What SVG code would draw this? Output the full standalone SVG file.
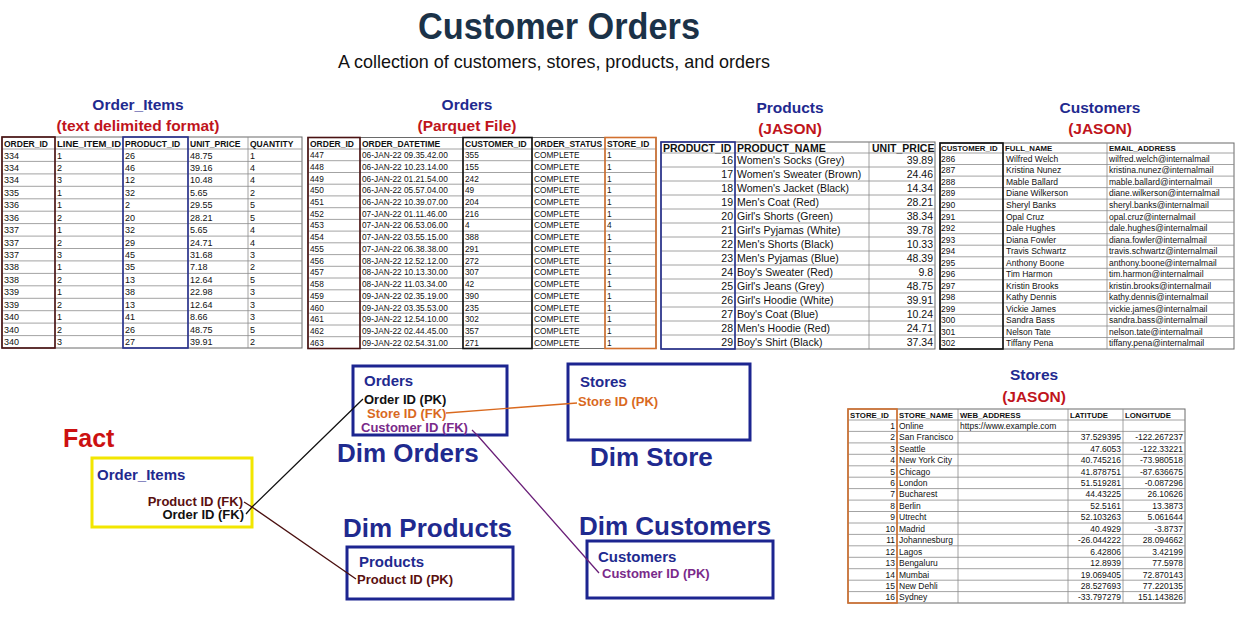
<svg xmlns="http://www.w3.org/2000/svg" width="1235" height="633" viewBox="0 0 1235 633">
<style>
text{font-family:"Liberation Sans",Arial,sans-serif}
.ttl{font-weight:bold;font-size:15.5px;fill:#1f2a8f;text-anchor:middle}
.sub{font-weight:bold;font-size:15.5px;fill:#c0141c;text-anchor:middle}
.h{font-weight:bold;font-size:8.5px;fill:#111}
.d{font-size:8.5px;fill:#111}
.d9{font-size:9px;fill:#111}
.d8{font-size:8.3px;fill:#111}
.ph{font-weight:bold;font-size:10.5px;fill:#111}
.pd{font-size:10.5px;fill:#111}
.ch{font-weight:bold;font-size:7.8px;fill:#111}
.r{text-anchor:end}
.grid{fill:none;stroke:#8c8c8c;stroke-width:0.8}
.bg{fill:#fff;stroke:#6a6a6a;stroke-width:1}
.hl-red{fill:none;stroke:#4a1212;stroke-width:1.6}
.hl-blue{fill:none;stroke:#26308f;stroke-width:1.6}
.hl-blk{fill:none;stroke:#111;stroke-width:1.6}
.hl-org{fill:none;stroke:#d2702e;stroke-width:1.6}
.box{fill:#fff;stroke:#1c2590;stroke-width:3}
.bt{font-weight:bold;font-size:15px;fill:#1f2a8f}
.k{font-weight:bold;font-size:13px}
.dim{font-weight:bold;font-size:26px;fill:#1f2a8f}
.con{fill:none;stroke-width:1.3}
</style>
<rect width="1235" height="633" fill="#fff"/>

<g id="title">
<text x="559" y="39" font-size="36" font-weight="bold" fill="#1b3248" text-anchor="middle" textLength="282" lengthAdjust="spacingAndGlyphs">Customer Orders</text>
<text x="554" y="68" font-size="18.5" fill="#111" text-anchor="middle" textLength="432" lengthAdjust="spacingAndGlyphs">A collection of customers, stores, products, and orders</text>
</g>

<!-- Order_Items table -->
<g id="t-order-items">
<text class="ttl" x="138" y="110">Order_Items</text>
<text class="sub" x="138" y="131">(text delimited format)</text>
<rect class="bg" x="2" y="137" width="300" height="211"/>
<path class="grid" d="M2 149H302M2 161.4H302M2 173.9H302M2 186.3H302M2 198.8H302M2 211.2H302M2 223.6H302M2 236.1H302M2 248.5H302M2 260.9H302M2 273.4H302M2 285.8H302M2 298.3H302M2 310.7H302M2 323.1H302M2 335.6H302M55 137V348M123 137V348M188 137V348M248 137V348"/>
<rect class="hl-red" x="2" y="137" width="53" height="211"/>
<rect class="hl-blue" x="123" y="137" width="65" height="211"/>
<text class="h" y="146.5" font-size="9"><tspan x="4">ORDER_ID</tspan><tspan x="57" textLength="64" lengthAdjust="spacingAndGlyphs">LINE_ITEM_ID</tspan><tspan x="125">PRODUCT_ID</tspan><tspan x="190">UNIT_PRICE</tspan><tspan x="250">QUANTITY</tspan></text>
<g class="d9">
<text y="158.5"><tspan x="4">334</tspan><tspan x="57">1</tspan><tspan x="125">26</tspan><tspan x="190">48.75</tspan><tspan x="250">1</tspan></text>
<text y="170.9"><tspan x="4">334</tspan><tspan x="57">2</tspan><tspan x="125">46</tspan><tspan x="190">39.16</tspan><tspan x="250">4</tspan></text>
<text y="183.4"><tspan x="4">334</tspan><tspan x="57">3</tspan><tspan x="125">12</tspan><tspan x="190">10.48</tspan><tspan x="250">4</tspan></text>
<text y="195.8"><tspan x="4">335</tspan><tspan x="57">1</tspan><tspan x="125">32</tspan><tspan x="190">5.65</tspan><tspan x="250">2</tspan></text>
<text y="208.3"><tspan x="4">336</tspan><tspan x="57">1</tspan><tspan x="125">2</tspan><tspan x="190">29.55</tspan><tspan x="250">5</tspan></text>
<text y="220.7"><tspan x="4">336</tspan><tspan x="57">2</tspan><tspan x="125">20</tspan><tspan x="190">28.21</tspan><tspan x="250">5</tspan></text>
<text y="233.1"><tspan x="4">337</tspan><tspan x="57">1</tspan><tspan x="125">32</tspan><tspan x="190">5.65</tspan><tspan x="250">4</tspan></text>
<text y="245.6"><tspan x="4">337</tspan><tspan x="57">2</tspan><tspan x="125">29</tspan><tspan x="190">24.71</tspan><tspan x="250">4</tspan></text>
<text y="258"><tspan x="4">337</tspan><tspan x="57">3</tspan><tspan x="125">45</tspan><tspan x="190">31.68</tspan><tspan x="250">3</tspan></text>
<text y="270.4"><tspan x="4">338</tspan><tspan x="57">1</tspan><tspan x="125">35</tspan><tspan x="190">7.18</tspan><tspan x="250">2</tspan></text>
<text y="282.9"><tspan x="4">338</tspan><tspan x="57">2</tspan><tspan x="125">13</tspan><tspan x="190">12.64</tspan><tspan x="250">5</tspan></text>
<text y="295.3"><tspan x="4">339</tspan><tspan x="57">1</tspan><tspan x="125">38</tspan><tspan x="190">22.98</tspan><tspan x="250">3</tspan></text>
<text y="307.8"><tspan x="4">339</tspan><tspan x="57">2</tspan><tspan x="125">13</tspan><tspan x="190">12.64</tspan><tspan x="250">3</tspan></text>
<text y="320.2"><tspan x="4">340</tspan><tspan x="57">1</tspan><tspan x="125">41</tspan><tspan x="190">8.66</tspan><tspan x="250">3</tspan></text>
<text y="332.6"><tspan x="4">340</tspan><tspan x="57">2</tspan><tspan x="125">26</tspan><tspan x="190">48.75</tspan><tspan x="250">5</tspan></text>
<text y="345.1"><tspan x="4">340</tspan><tspan x="57">3</tspan><tspan x="125">27</tspan><tspan x="190">39.91</tspan><tspan x="250">2</tspan></text>
</g>
</g>

<!-- Orders table -->
<g id="t-orders">
<text class="ttl" x="467" y="110">Orders</text>
<text class="sub" x="467" y="131">(Parquet File)</text>
<rect class="bg" x="308" y="137.5" width="348" height="211"/>
<path class="grid" d="M308 149H656M308 160.7H656M308 172.5H656M308 184.2H656M308 195.9H656M308 207.7H656M308 219.4H656M308 231.1H656M308 242.8H656M308 254.6H656M308 266.3H656M308 278H656M308 289.8H656M308 301.5H656M308 313.2H656M308 325H656M308 336.7H656M360 137.5V348.5M463 137.5V348.5M532 137.5V348.5M605 137.5V348.5"/>
<rect class="hl-red" x="308" y="137.5" width="52" height="211"/>
<rect class="hl-blk" x="463" y="137.5" width="69" height="211"/>
<rect class="hl-org" x="605" y="137.5" width="51" height="211"/>
<text class="h" y="146.5"><tspan x="310">ORDER_ID</tspan><tspan x="362">ORDER_DATETIME</tspan><tspan x="465">CUSTOMER_ID</tspan><tspan x="534">ORDER_STATUS</tspan><tspan x="607">STORE_ID</tspan></text>
<g class="d8">
<text y="158"><tspan x="310">447</tspan><tspan x="362">06-JAN-22 09.35.42.00</tspan><tspan x="465">355</tspan><tspan x="534">COMPLETE</tspan><tspan x="607">1</tspan></text>
<text y="169.7"><tspan x="310">448</tspan><tspan x="362">06-JAN-22 10.23.14.00</tspan><tspan x="465">155</tspan><tspan x="534">COMPLETE</tspan><tspan x="607">1</tspan></text>
<text y="181.5"><tspan x="310">449</tspan><tspan x="362">06-JAN-22 01.21.54.00</tspan><tspan x="465">242</tspan><tspan x="534">COMPLETE</tspan><tspan x="607">1</tspan></text>
<text y="193.2"><tspan x="310">450</tspan><tspan x="362">06-JAN-22 05.57.04.00</tspan><tspan x="465">49</tspan><tspan x="534">COMPLETE</tspan><tspan x="607">1</tspan></text>
<text y="204.9"><tspan x="310">451</tspan><tspan x="362">06-JAN-22 10.39.07.00</tspan><tspan x="465">204</tspan><tspan x="534">COMPLETE</tspan><tspan x="607">1</tspan></text>
<text y="216.7"><tspan x="310">452</tspan><tspan x="362">07-JAN-22 01.11.46.00</tspan><tspan x="465">216</tspan><tspan x="534">COMPLETE</tspan><tspan x="607">1</tspan></text>
<text y="228.4"><tspan x="310">453</tspan><tspan x="362">07-JAN-22 06.53.06.00</tspan><tspan x="465">4</tspan><tspan x="534">COMPLETE</tspan><tspan x="607">4</tspan></text>
<text y="240.1"><tspan x="310">454</tspan><tspan x="362">07-JAN-22 03.55.15.00</tspan><tspan x="465">388</tspan><tspan x="534">COMPLETE</tspan><tspan x="607">1</tspan></text>
<text y="251.8"><tspan x="310">455</tspan><tspan x="362">07-JAN-22 06.38.38.00</tspan><tspan x="465">291</tspan><tspan x="534">COMPLETE</tspan><tspan x="607">1</tspan></text>
<text y="263.6"><tspan x="310">456</tspan><tspan x="362">08-JAN-22 12.52.12.00</tspan><tspan x="465">272</tspan><tspan x="534">COMPLETE</tspan><tspan x="607">1</tspan></text>
<text y="275.3"><tspan x="310">457</tspan><tspan x="362">08-JAN-22 10.13.30.00</tspan><tspan x="465">307</tspan><tspan x="534">COMPLETE</tspan><tspan x="607">1</tspan></text>
<text y="287"><tspan x="310">458</tspan><tspan x="362">08-JAN-22 11.03.34.00</tspan><tspan x="465">42</tspan><tspan x="534">COMPLETE</tspan><tspan x="607">1</tspan></text>
<text y="298.8"><tspan x="310">459</tspan><tspan x="362">09-JAN-22 02.35.19.00</tspan><tspan x="465">390</tspan><tspan x="534">COMPLETE</tspan><tspan x="607">1</tspan></text>
<text y="310.5"><tspan x="310">460</tspan><tspan x="362">09-JAN-22 03.35.53.00</tspan><tspan x="465">235</tspan><tspan x="534">COMPLETE</tspan><tspan x="607">1</tspan></text>
<text y="322.2"><tspan x="310">461</tspan><tspan x="362">09-JAN-22 12.54.10.00</tspan><tspan x="465">302</tspan><tspan x="534">COMPLETE</tspan><tspan x="607">1</tspan></text>
<text y="334"><tspan x="310">462</tspan><tspan x="362">09-JAN-22 02.44.45.00</tspan><tspan x="465">357</tspan><tspan x="534">COMPLETE</tspan><tspan x="607">1</tspan></text>
<text y="345.7"><tspan x="310">463</tspan><tspan x="362">09-JAN-22 02.54.31.00</tspan><tspan x="465">271</tspan><tspan x="534">COMPLETE</tspan><tspan x="607">1</tspan></text>
</g>
</g>

<!-- Products table -->
<g id="t-products">
<text class="ttl" x="790" y="113">Products</text>
<text class="sub" x="790" y="134">(JASON)</text>
<rect class="bg" x="661" y="142" width="274" height="207"/>
<path class="grid" d="M661 153H935M661 167H935M661 181H935M661 195H935M661 209H935M661 223H935M661 237H935M661 251H935M661 265H935M661 279H935M661 293H935M661 307H935M661 321H935M661 335H935M735 142V349M869 142V349"/>
<rect class="hl-blue" x="661" y="142" width="74" height="207"/>
<text class="ph" y="151.5"><tspan x="663">PRODUCT_ID</tspan><tspan x="737">PRODUCT_NAME</tspan><tspan x="872">UNIT_PRICE</tspan></text>
<g class="pd">
<text y="163.5"><tspan x="733" class="r">16</tspan><tspan x="737">Women's Socks (Grey)</tspan><tspan x="933" class="r">39.89</tspan></text>
<text y="177.5"><tspan x="733" class="r">17</tspan><tspan x="737">Women's Sweater (Brown)</tspan><tspan x="933" class="r">24.46</tspan></text>
<text y="191.5"><tspan x="733" class="r">18</tspan><tspan x="737">Women's Jacket (Black)</tspan><tspan x="933" class="r">14.34</tspan></text>
<text y="205.5"><tspan x="733" class="r">19</tspan><tspan x="737">Men's Coat (Red)</tspan><tspan x="933" class="r">28.21</tspan></text>
<text y="219.5"><tspan x="733" class="r">20</tspan><tspan x="737">Girl's Shorts (Green)</tspan><tspan x="933" class="r">38.34</tspan></text>
<text y="233.5"><tspan x="733" class="r">21</tspan><tspan x="737">Girl's Pyjamas (White)</tspan><tspan x="933" class="r">39.78</tspan></text>
<text y="247.5"><tspan x="733" class="r">22</tspan><tspan x="737">Men's Shorts (Black)</tspan><tspan x="933" class="r">10.33</tspan></text>
<text y="261.5"><tspan x="733" class="r">23</tspan><tspan x="737">Men's Pyjamas (Blue)</tspan><tspan x="933" class="r">48.39</tspan></text>
<text y="275.5"><tspan x="733" class="r">24</tspan><tspan x="737">Boy's Sweater (Red)</tspan><tspan x="933" class="r">9.8</tspan></text>
<text y="289.5"><tspan x="733" class="r">25</tspan><tspan x="737">Girl's Jeans (Grey)</tspan><tspan x="933" class="r">48.75</tspan></text>
<text y="303.5"><tspan x="733" class="r">26</tspan><tspan x="737">Girl's Hoodie (White)</tspan><tspan x="933" class="r">39.91</tspan></text>
<text y="317.5"><tspan x="733" class="r">27</tspan><tspan x="737">Boy's Coat (Blue)</tspan><tspan x="933" class="r">10.24</tspan></text>
<text y="331.5"><tspan x="733" class="r">28</tspan><tspan x="737">Men's Hoodie (Red)</tspan><tspan x="933" class="r">24.71</tspan></text>
<text y="345.5"><tspan x="733" class="r">29</tspan><tspan x="737">Boy's Shirt (Black)</tspan><tspan x="933" class="r">37.34</tspan></text>
</g>
</g>

<!-- Customers table -->
<g id="t-customers">
<text class="ttl" x="1100" y="113">Customers</text>
<text class="sub" x="1100" y="134">(JASON)</text>
<rect class="bg" x="940" y="143" width="294" height="206"/>
<path class="grid" d="M940 153H1234M940 164.5H1234M940 176.1H1234M940 187.6H1234M940 199.1H1234M940 210.7H1234M940 222.2H1234M940 233.7H1234M940 245.2H1234M940 256.8H1234M940 268.3H1234M940 279.8H1234M940 291.4H1234M940 302.9H1234M940 314.4H1234M940 326H1234M940 337.5H1234M1003 143V349M1107 143V349"/>
<rect class="hl-blk" x="940" y="143" width="63" height="206"/>
<text class="ch" y="151"><tspan x="941">CUSTOMER_ID</tspan><tspan x="1005">FULL_NAME</tspan><tspan x="1109">EMAIL_ADDRESS</tspan></text>
<g class="d">
<text y="161.8"><tspan x="941">286</tspan><tspan x="1006">Wilfred Welch</tspan><tspan x="1109">wilfred.welch@internalmail</tspan></text>
<text y="173.3"><tspan x="941">287</tspan><tspan x="1006">Kristina Nunez</tspan><tspan x="1109">kristina.nunez@internalmail</tspan></text>
<text y="184.9"><tspan x="941">288</tspan><tspan x="1006">Mable Ballard</tspan><tspan x="1109">mable.ballard@internalmail</tspan></text>
<text y="196.4"><tspan x="941">289</tspan><tspan x="1006">Diane Wilkerson</tspan><tspan x="1109">diane.wilkerson@internalmail</tspan></text>
<text y="207.9"><tspan x="941">290</tspan><tspan x="1006">Sheryl Banks</tspan><tspan x="1109">sheryl.banks@internalmail</tspan></text>
<text y="219.5"><tspan x="941">291</tspan><tspan x="1006">Opal Cruz</tspan><tspan x="1109">opal.cruz@internalmail</tspan></text>
<text y="231"><tspan x="941">292</tspan><tspan x="1006">Dale Hughes</tspan><tspan x="1109">dale.hughes@internalmail</tspan></text>
<text y="242.5"><tspan x="941">293</tspan><tspan x="1006">Diana Fowler</tspan><tspan x="1109">diana.fowler@internalmail</tspan></text>
<text y="254"><tspan x="941">294</tspan><tspan x="1006">Travis Schwartz</tspan><tspan x="1109">travis.schwartz@internalmail</tspan></text>
<text y="265.6"><tspan x="941">295</tspan><tspan x="1006">Anthony Boone</tspan><tspan x="1109">anthony.boone@internalmail</tspan></text>
<text y="277.1"><tspan x="941">296</tspan><tspan x="1006">Tim Harmon</tspan><tspan x="1109">tim.harmon@internalmail</tspan></text>
<text y="288.6"><tspan x="941">297</tspan><tspan x="1006">Kristin Brooks</tspan><tspan x="1109">kristin.brooks@internalmail</tspan></text>
<text y="300.2"><tspan x="941">298</tspan><tspan x="1006">Kathy Dennis</tspan><tspan x="1109">kathy.dennis@internalmail</tspan></text>
<text y="311.7"><tspan x="941">299</tspan><tspan x="1006">Vickie James</tspan><tspan x="1109">vickie.james@internalmail</tspan></text>
<text y="323.2"><tspan x="941">300</tspan><tspan x="1006">Sandra Bass</tspan><tspan x="1109">sandra.bass@internalmail</tspan></text>
<text y="334.8"><tspan x="941">301</tspan><tspan x="1006">Nelson Tate</tspan><tspan x="1109">nelson.tate@internalmail</tspan></text>
<text y="346.3"><tspan x="941">302</tspan><tspan x="1006">Tiffany Pena</tspan><tspan x="1109">tiffany.pena@internalmail</tspan></text>
</g>
</g>

<!-- Stores table -->
<g id="t-stores">
<text class="ttl" x="1034" y="380">Stores</text>
<text class="sub" x="1034" y="402">(JASON)</text>
<rect class="bg" x="848" y="409" width="337" height="194"/>
<path class="grid" d="M848 420H1185M848 431.4H1185M848 442.9H1185M848 454.3H1185M848 465.8H1185M848 477.2H1185M848 488.6H1185M848 500.1H1185M848 511.5H1185M848 523H1185M848 534.4H1185M848 545.8H1185M848 557.3H1185M848 568.7H1185M848 580.2H1185M848 591.6H1185M897 409V603M958 409V603M1068 409V603M1123 409V603"/>
<rect class="hl-org" x="848" y="409" width="49" height="194"/>
<text class="ch" y="417.5"><tspan x="850">STORE_ID</tspan><tspan x="899">STORE_NAME</tspan><tspan x="960">WEB_ADDRESS</tspan><tspan x="1070">LATITUDE</tspan><tspan x="1125">LONGITUDE</tspan></text>
<g class="d">
<text y="428.8"><tspan x="895" class="r">1</tspan><tspan x="899">Online</tspan><tspan x="960">https://www.example.com</tspan></text>
<text y="440.2"><tspan x="895" class="r">2</tspan><tspan x="899">San Francisco</tspan><tspan x="1121" class="r">37.529395</tspan><tspan x="1183" class="r">-122.267237</tspan></text>
<text y="451.7"><tspan x="895" class="r">3</tspan><tspan x="899">Seattle</tspan><tspan x="1121" class="r">47.6053</tspan><tspan x="1183" class="r">-122.33221</tspan></text>
<text y="463.1"><tspan x="895" class="r">4</tspan><tspan x="899">New York City</tspan><tspan x="1121" class="r">40.745216</tspan><tspan x="1183" class="r">-73.980518</tspan></text>
<text y="474.6"><tspan x="895" class="r">5</tspan><tspan x="899">Chicago</tspan><tspan x="1121" class="r">41.878751</tspan><tspan x="1183" class="r">-87.636675</tspan></text>
<text y="486"><tspan x="895" class="r">6</tspan><tspan x="899">London</tspan><tspan x="1121" class="r">51.519281</tspan><tspan x="1183" class="r">-0.087296</tspan></text>
<text y="497.4"><tspan x="895" class="r">7</tspan><tspan x="899">Bucharest</tspan><tspan x="1121" class="r">44.43225</tspan><tspan x="1183" class="r">26.10626</tspan></text>
<text y="508.9"><tspan x="895" class="r">8</tspan><tspan x="899">Berlin</tspan><tspan x="1121" class="r">52.5161</tspan><tspan x="1183" class="r">13.3873</tspan></text>
<text y="520.3"><tspan x="895" class="r">9</tspan><tspan x="899">Utrecht</tspan><tspan x="1121" class="r">52.103263</tspan><tspan x="1183" class="r">5.061644</tspan></text>
<text y="531.8"><tspan x="895" class="r">10</tspan><tspan x="899">Madrid</tspan><tspan x="1121" class="r">40.4929</tspan><tspan x="1183" class="r">-3.8737</tspan></text>
<text y="543.2"><tspan x="895" class="r">11</tspan><tspan x="899">Johannesburg</tspan><tspan x="1121" class="r">-26.044222</tspan><tspan x="1183" class="r">28.094662</tspan></text>
<text y="554.6"><tspan x="895" class="r">12</tspan><tspan x="899">Lagos</tspan><tspan x="1121" class="r">6.42806</tspan><tspan x="1183" class="r">3.42199</tspan></text>
<text y="566.1"><tspan x="895" class="r">13</tspan><tspan x="899">Bengaluru</tspan><tspan x="1121" class="r">12.8939</tspan><tspan x="1183" class="r">77.5978</tspan></text>
<text y="577.5"><tspan x="895" class="r">14</tspan><tspan x="899">Mumbai</tspan><tspan x="1121" class="r">19.069405</tspan><tspan x="1183" class="r">72.870143</tspan></text>
<text y="589"><tspan x="895" class="r">15</tspan><tspan x="899">New Dehli</tspan><tspan x="1121" class="r">28.527693</tspan><tspan x="1183" class="r">77.220135</tspan></text>
<text y="600.4"><tspan x="895" class="r">16</tspan><tspan x="899">Sydney</tspan><tspan x="1121" class="r">-33.797279</tspan><tspan x="1183" class="r">151.143826</tspan></text>
</g>
</g>

<!-- Schema nodes -->
<g id="n-fact-order-items">
<text x="63" y="447" font-size="25" font-weight="bold" fill="#cc1111">Fact</text>
<rect x="92" y="458" width="160" height="69" fill="#fff" stroke="#f2e600" stroke-width="3"/>
<text class="bt" x="97" y="480">Order_Items</text>
<text class="k r" x="243" y="506" fill="#5a1010">Product ID (FK)</text>
<text class="k r" x="244" y="519" fill="#111">Order ID (FK)</text>
</g>

<g id="n-dim-orders">
<rect class="box" x="353" y="366" width="154" height="69"/>
<text class="bt" x="364" y="386">Orders</text>
<text class="k" x="364" y="404" fill="#111">Order ID (PK)</text>
<text class="k" x="367" y="418" fill="#d9691e">Store ID (FK)</text>
<text class="k" x="361" y="432" fill="#7a2a8a">Customer ID (FK)</text>
<text class="dim" x="337" y="462">Dim Orders</text>
</g>

<g id="n-dim-store">
<rect class="box" x="568" y="364" width="182" height="76"/>
<text class="bt" x="580" y="387">Stores</text>
<text class="k" x="578" y="406" fill="#d9691e">Store ID (PK)</text>
<text class="dim" x="590" y="466">Dim Store</text>
</g>

<g id="n-dim-products">
<text class="dim" x="343" y="537">Dim Products</text>
<rect class="box" x="347" y="547" width="166" height="52"/>
<text class="bt" x="359" y="567">Products</text>
<text class="k" x="357" y="584" fill="#5a1010">Product ID (PK)</text>
</g>

<g id="n-dim-customers">
<text class="dim" x="579" y="535">Dim Customers</text>
<rect class="box" x="587" y="541" width="186" height="57"/>
<text class="bt" x="598" y="562">Customers</text>
<text class="k" x="602" y="578" fill="#7a2a8a">Customer ID (PK)</text>
</g>

<g id="connectors">
<polyline class="con" stroke="#111" points="246,514 252,507 363,399"/>
<polyline class="con" stroke="#4a1010" points="244,502 252,507 356,579"/>
<line class="con" stroke="#d9691e" x1="446" y1="413" x2="577" y2="403"/>
<polyline class="con" stroke="#6a1f78" points="472,430 478,436 599,573"/>
</g>
</svg>
